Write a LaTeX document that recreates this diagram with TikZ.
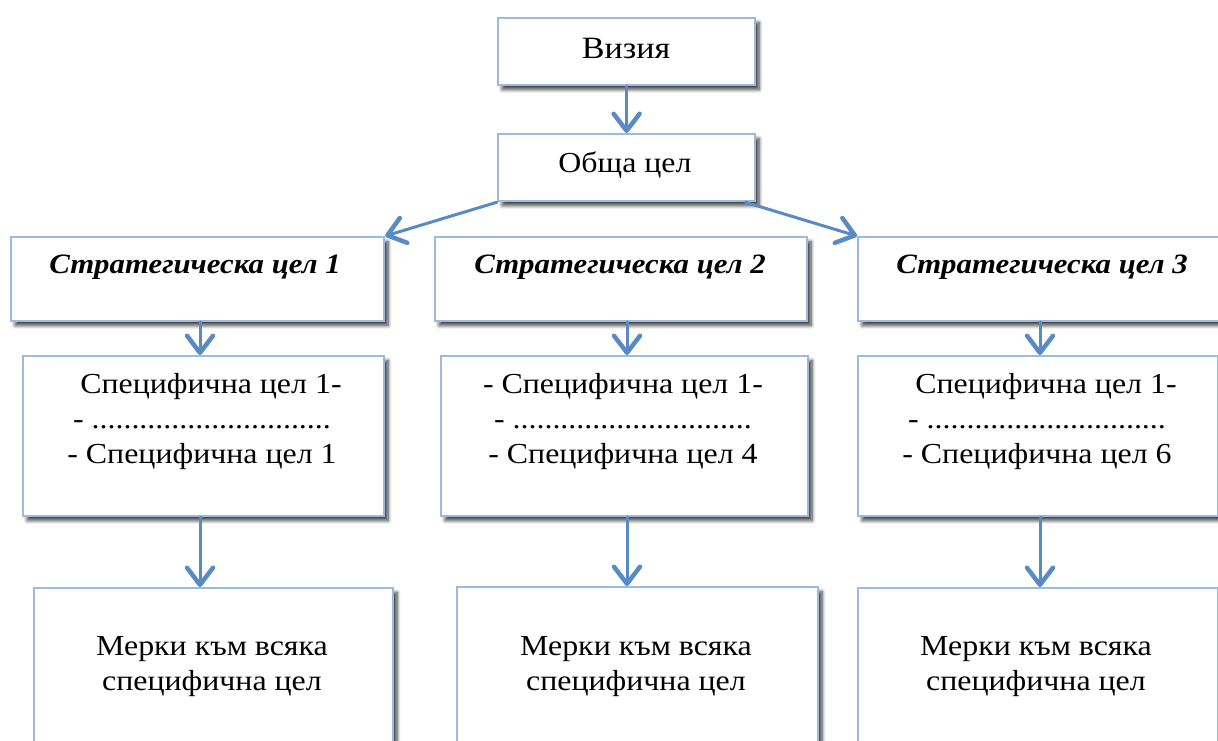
\documentclass[tikz,border=0pt]{standalone}
\usepackage{fontspec}
\setmainfont{Liberation Serif}[FakeStretch=1.1]
\usetikzlibrary{arrows.meta,shadows.blur,calc}
\definecolor{boxline}{RGB}{155,186,222}
\definecolor{arrowc}{RGB}{88,138,198}
\tikzset{
  box/.style={draw=boxline, line width=2.2pt, fill=white, anchor=north west, inner sep=0pt,
    blur shadow={shadow xshift=4pt, shadow yshift=-4.5pt, shadow blur steps=8, shadow opacity=75, shadow blur radius=3.5pt}},
  txt/.style={inner sep=0pt, anchor=base, align=center, font=\fontsize{29}{35}\selectfont},
  stxt/.style={txt, font=\fontsize{28}{35}\selectfont\bfseries\itshape},
  arr/.style={draw=arrowc, line width=3pt, line cap=round,
    -{Straight Barb[length=17pt, width=26pt, line width=4.5pt, line cap=round, line join=round]}},
}
\begin{document}
\begin{tikzpicture}[x=1pt,y=-1pt]
\useasboundingbox (0,0) rectangle (1218,740);
\clip (0,0) rectangle (1218,740);
% boxes
\node[box, minimum width=257pt, minimum height=67pt] (vis) at (497,17) {};
\node[box, minimum width=257pt, minimum height=67pt] (goal) at (497,133) {};
\node[box, minimum width=373pt, minimum height=84pt] (s1) at (10,236) {};
\node[box, minimum width=372pt, minimum height=84pt] (s2) at (434,236) {};
\node[box, minimum width=385pt, minimum height=84pt] (s3) at (857,236) {};
\node[box, minimum width=361pt, minimum height=160pt] (sp1) at (22,355) {};
\node[box, minimum width=367pt, minimum height=160pt] (sp2) at (440,355) {};
\node[box, minimum width=360pt, minimum height=160pt] (sp3) at (857,355) {};
\node[box, minimum width=359pt, minimum height=200pt] (m1) at (33,587) {};
\node[box, minimum width=361pt, minimum height=200pt] (m2) at (456,586) {};
\node[box, minimum width=360pt, minimum height=200pt] (m3) at (857,587) {};
% texts
\node[txt, font=\fontsize{31}{35}\selectfont] (tvis) at (626,58) {Визия};
\node[txt] (tgoal) at (625,172) {Обща цел};
\node[stxt] (ts1) at (195,273) {Стратегическа цел 1};
\node[stxt] (ts2) at (620,273) {Стратегическа цел 2};
\node[stxt] (ts3) at (1042,273) {Стратегическа цел 3};
\node[txt] (tsp1) at (202,463) {\hspace*{18pt}Специфична цел 1-\\- ..............................\\- Специфична цел 1};
\node[txt] (tsp2) at (623,463) {- Специфична цел 1-\\- ..............................\\- Специфична цел 4};
\node[txt] (tsp3) at (1037,463) {\hspace*{18pt}Специфична цел 1-\\- ..............................\\- Специфична цел 6};
\node[txt] (tm1) at (212,690) {Мерки към всяка\\специфична цел};
\node[txt] (tm2) at (636,690) {Мерки към всяка\\специфична цел};
\node[txt] (tm3) at (1036,690) {Мерки към всяка\\специфична цел};
% arrows
\draw[arr] (vis.south) -- (goal.north);
\draw[arr] (goal.south west) -- (s1.north east);
\draw[arr] ($(goal.south east)+(-11,0)$) -- (s3.north west);
\draw[arr] (s1.south -| 200,0) -- (sp1.north -| 200,0);
\draw[arr] (s2.south -| 627,0) -- (sp2.north -| 627,0);
\draw[arr] (s3.south -| 1040,0) -- (sp3.north -| 1040,0);
\draw[arr] (sp1.south -| 200,0) -- (m1.north -| 200,0);
\draw[arr] (sp2.south -| 627,0) -- (m2.north -| 627,0);
\draw[arr] (sp3.south -| 1040,0) -- (m3.north -| 1040,0);
\end{tikzpicture}
\end{document}
